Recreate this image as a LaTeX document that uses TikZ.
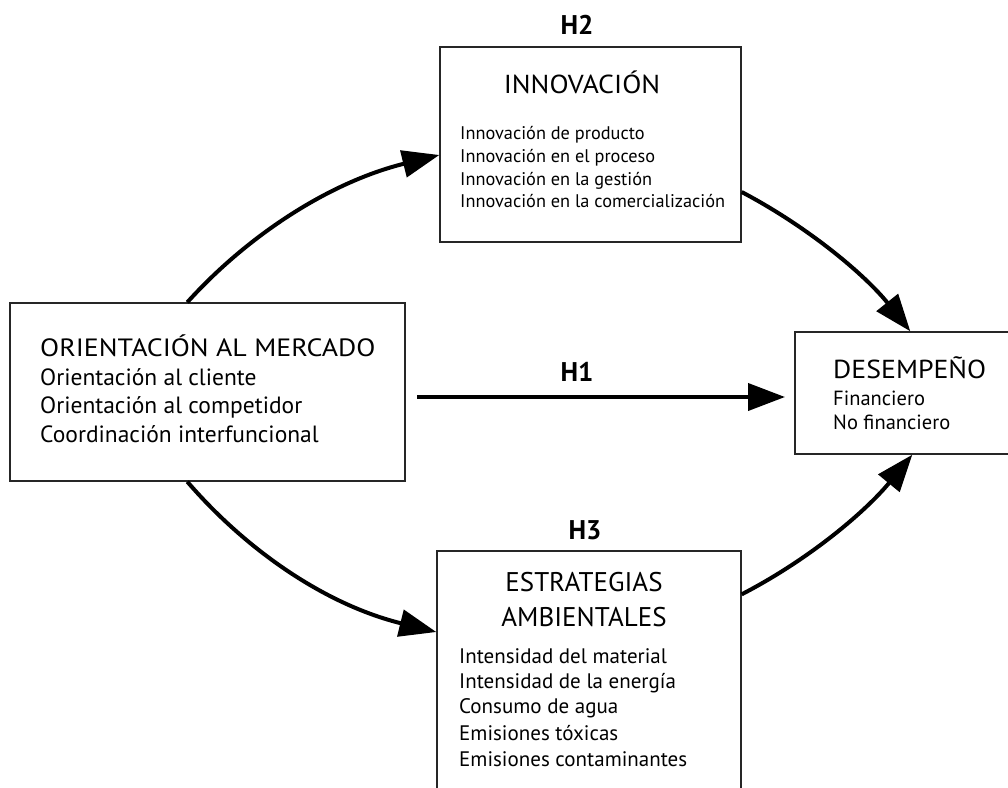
\documentclass[tikz,border=0pt]{standalone}
\usepackage{fontspec}
\setmainfont{PT Sans}
\usetikzlibrary{arrows.meta}
\begin{document}
\begin{tikzpicture}[x=1pt,y=-1pt,
  box/.style={draw=black!85, line width=1.4pt, inner sep=0pt},
  conn/.style={line width=4pt, -{Triangle[length=37pt,width=27pt]}},
  hlab/.style={font=\fontsize{27}{27}\selectfont\bfseries, inner sep=0pt},
  txt/.style={anchor=base west, inner sep=0pt},
  ttl/.style={anchor=base, inner sep=0pt},
]
\useasboundingbox (0,0) rectangle (1008,787);
\clip (0,0) rectangle (1008,787);
% boxes
\node[box, minimum width=395pt, minimum height=178pt] (om) at (207.5,392) {};
\node[box, minimum width=301pt, minimum height=195pt] (inn) at (590.5,144.5) {};
\node[box, minimum width=304pt, minimum height=259pt] (est) at (589,680.5) {};
\node[box, minimum width=220pt, minimum height=122pt] (des) at (905,393) {};
% texts: orientacion
\node[txt, font={\fontsize{25}{25}\selectfont\addfontfeature{FakeStretch=1.115}}] (omt) at (40,356) {ORIENTACIÓN AL MERCADO};
\node[txt, font=\fontsize{23.5}{23.5}\selectfont] (om1) at (40,385) {Orientación al cliente};
\node[txt, font=\fontsize{23.5}{23.5}\selectfont] (om2) at (40,413) {Orientación al competidor};
\node[txt, font=\fontsize{23.5}{23.5}\selectfont] (om3) at (40,442) {Coordinación interfuncional};
% innovacion
\node[ttl, font={\fontsize{26}{26}\selectfont\addfontfeature{FakeStretch=1.075}}] (innt) at (582,93) {INNOVACIÓN};
\node[txt, font=\fontsize{18.3}{18.3}\selectfont] (inn1) at (460,139) {Innovación de producto};
\node[txt, font=\fontsize{18.3}{18.3}\selectfont] (inn2) at (460,162) {Innovación en el proceso};
\node[txt, font=\fontsize{18.3}{18.3}\selectfont] (inn3) at (460,185) {Innovación en la gestión};
\node[txt, font=\fontsize{18.3}{18.3}\selectfont] (inn4) at (460,207) {Innovación en la comercialización};
% estrategias
\node[ttl, font=\fontsize{27}{27}\selectfont] (estt1) at (584,591) {ESTRATEGIAS};
\node[ttl, font=\fontsize{27}{27}\selectfont] (estt2) at (584,626) {AMBIENTALES};
\node[txt, font=\fontsize{21}{21}\selectfont] (est1) at (459,663) {Intensidad del material};
\node[txt, font=\fontsize{21}{21}\selectfont] (est2) at (459,688) {Intensidad de la energía};
\node[txt, font=\fontsize{21}{21}\selectfont] (est3) at (459,713) {Consumo de agua};
\node[txt, font=\fontsize{21}{21}\selectfont] (est4) at (459,740) {Emisiones tóxicas};
\node[txt, font=\fontsize{21}{21}\selectfont] (est5) at (459,766) {Emisiones contaminantes};
% desempeno
\node[txt, font={\fontsize{26}{26}\selectfont\addfontfeature{FakeStretch=1.07}}] (dest) at (833,378) {DESEMPEÑO};
\node[txt, font=\fontsize{20.5}{20.5}\selectfont] (des1) at (833,405) {Financiero};
\node[txt, font=\fontsize{20.5}{20.5}\selectfont] (des2) at (833,429) {No financiero};
% hypothesis labels
\node[hlab] (h2) at (577,25) {H2};
\node[hlab] (h1) at (577,372) {H1};
\node[hlab] (h3) at (585,530) {H3};
% connectors
\coordinate (h1s) at (417,397);
\coordinate (h1e) at (785,397);
\draw[conn] (h1s) -- (h1e);
\draw[conn] ([xshift=178pt]om.north west) .. controls (248,235) and (330,182) .. ([yshift=-10.5pt]inn.west);
\draw[conn] ([xshift=178pt]om.south west) .. controls (248,552) and (327,605) .. ([yshift=48.5pt]est.west);
\draw[conn] ([yshift=-47.5pt]inn.east) .. controls (810,228) and (866,276) .. ([xshift=116pt]des.north west);
\draw[conn] ([yshift=-44pt]est.north east) .. controls (810,559) and (866,511) .. ([xshift=118pt]des.south west);
\end{tikzpicture}
\end{document}
